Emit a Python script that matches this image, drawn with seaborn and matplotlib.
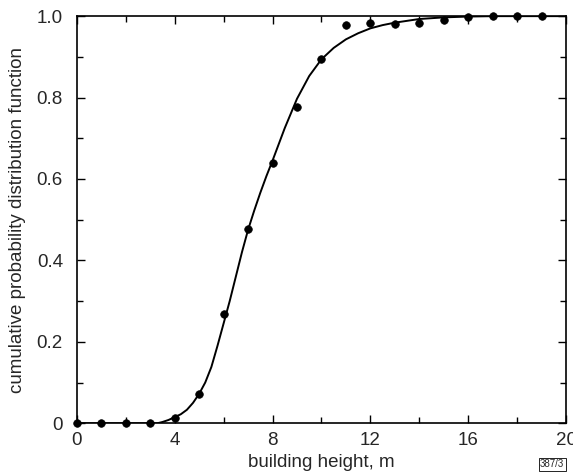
import matplotlib
matplotlib.use("Agg")
import matplotlib.pyplot as plt
from matplotlib.ticker import MultipleLocator
import seaborn as sns
import pandas as pd

# measured points
height_m = [0, 1, 2, 3, 4, 5, 6, 7, 8, 9, 10, 11, 12, 13, 14, 15, 16, 17, 18, 19]
cdf_obs = [0.0, 0.0, 0.0, 0.0, 0.014, 0.072, 0.268, 0.477, 0.639, 0.776, 0.894,
           0.978, 0.982, 0.981, 0.982, 0.990, 0.998, 1.0, 1.0, 1.0]

# fitted curve
fit_x = [0, 1, 2, 3, 3.3, 3.5, 3.75, 4, 4.25, 4.5, 4.75, 5, 5.25, 5.5, 5.75, 6,
         6.25, 6.5, 6.75, 7, 7.25, 7.5, 7.75, 8, 8.5, 9, 9.5, 10, 10.5, 11,
         11.5, 12, 12.5, 13, 14, 15, 16, 17, 18, 19, 20]
fit_y = [0.0, 0.0, 0.0, 0.0, 0.0, 0.003, 0.008, 0.015, 0.022, 0.033, 0.05, 0.072,
         0.10, 0.138, 0.19, 0.245, 0.30, 0.36, 0.42, 0.475, 0.522, 0.566, 0.607,
         0.645, 0.725, 0.797, 0.853, 0.894, 0.922, 0.943, 0.958, 0.970, 0.978,
         0.984, 0.993, 0.997, 0.999, 1.0, 1.0, 1.0, 1.0]

x_ticks = [0, 4, 8, 12, 16, 20]
y_ticks = [0, 0.2, 0.4, 0.6, 0.8, 1.0]
y_tick_labels = ["0", "0.2", "0.4", "0.6", "0.8", "1.0"]

obs = pd.DataFrame({"x": height_m, "y": cdf_obs})
fit = pd.DataFrame({"x": fit_x, "y": fit_y})

sns.set_style("ticks")
plt.rcParams["font.family"] = ["Liberation Sans", "DejaVu Sans"]

fig = plt.figure(figsize=(5.73, 4.75), dpi=100)
ax = fig.add_axes([0.134, 0.109, 0.854, 0.857])

sns.lineplot(data=fit, x="x", y="y", color="black", linewidth=1.4, ax=ax)
sns.scatterplot(data=obs, x="x", y="y", color="black", s=30, edgecolor="black",
                linewidth=0.5, zorder=3, clip_on=False, ax=ax)

ax.set_xlim(0, 20)
ax.set_ylim(0, 1.0)
ax.set_xticks(x_ticks)
ax.set_xticklabels([str(v) for v in x_ticks])
ax.set_yticks(y_ticks)
ax.set_yticklabels(y_tick_labels)
ax.xaxis.set_minor_locator(MultipleLocator(2))
ax.yaxis.set_minor_locator(MultipleLocator(0.1))
ax.tick_params(which="both", direction="in", top=True, right=True,
               labelsize=13.5, color="black", width=1)
ax.tick_params(which="major", length=6)
ax.tick_params(axis="y", which="major", pad=10)
ax.tick_params(axis="x", which="major", pad=6)
ax.tick_params(which="minor", length=4)
for sp in ax.spines.values():
    sp.set_color("black")
    sp.set_linewidth(1.2)

ax.set_xlabel("building height, m", fontsize=13.5, labelpad=4)
ax.set_ylabel("cumulative probability distribution function", fontsize=13.5,
              labelpad=8)

fig.text(0.985, 0.012, "387/3", fontsize=7, ha="right", va="bottom",
         bbox=dict(boxstyle="square,pad=0.15", facecolor="white",
                   edgecolor="black", linewidth=0.6))

fig.savefig("out.png", dpi=100)
